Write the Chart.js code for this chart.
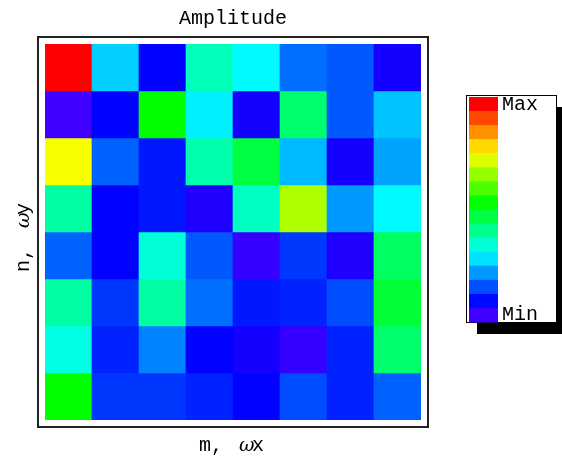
<!DOCTYPE html>
<html>
<head>
<meta charset="utf-8">
<script src="https://cdn.jsdelivr.net/npm/chart.js@4.4.1/dist/chart.umd.min.js"></script>
<style>
  html, body { margin: 0; padding: 0; background: #fff; }
</style>
</head>
<body>
<div style="width:562px;height:456px">
  <canvas id="chart" width="562" height="456"></canvas>
</div>
<script>
// columns m (left to right), rows n (top to bottom)
const columns = ["1", "2", "3", "4", "5", "6", "7", "8"];
const rows = ["1", "2", "3", "4", "5", "6", "7", "8"];

// normalised amplitude, 0 = Min, 1 = Max (row by row, top first)
const amplitude = [
  [1.00, 0.25, 0.06, 0.36, 0.29, 0.16, 0.14, 0.04],
  [0.00, 0.06, 0.53, 0.28, 0.04, 0.43, 0.14, 0.24],
  [0.76, 0.15, 0.08, 0.37, 0.47, 0.23, 0.04, 0.21],
  [0.38, 0.06, 0.08, 0.03, 0.35, 0.69, 0.20, 0.29],
  [0.15, 0.06, 0.33, 0.14, 0.01, 0.11, 0.03, 0.44],
  [0.38, 0.11, 0.38, 0.16, 0.08, 0.09, 0.13, 0.48],
  [0.32, 0.09, 0.18, 0.06, 0.04, 0.01, 0.09, 0.43],
  [0.53, 0.11, 0.11, 0.09, 0.06, 0.13, 0.09, 0.15],
];

// colour bar steps, top (Max) to bottom (Min)
const legendLevels = [1.0, 0.933, 0.867, 0.8, 0.733, 0.667, 0.6, 0.533,
                      0.467, 0.4, 0.333, 0.267, 0.2, 0.133, 0.067, 0.0];

const MONO = "'Courier New', 'Liberation Mono', monospace";

// hue runs from violet (min) to red (max)
function colour(v) {
  const h = 255 * (1 - v);
  return "hsl(" + h.toFixed(1) + ", 100%, 50%)";
}

// one floating bar per cell, bottom row is dataset 0
const datasets = rows.map((r, i) => {
  const k = rows.length - 1 - i;
  return {
    label: "n=" + r,
    data: columns.map(() => [k, k + 1]),
    backgroundColor: amplitude[i].map(colour),
    borderWidth: 0,
    barPercentage: 1,
    categoryPercentage: 1,
  };
});

const decorations = {
  id: "decorations",
  afterDraw(chart) {
    const ctx = chart.ctx;
    ctx.save();

    // plot frame
    ctx.strokeStyle = "#222";
    ctx.lineWidth = 2;
    ctx.strokeRect(38, 37, 390, 390);

    ctx.fillStyle = "#000";
    ctx.font = "20px " + MONO;
    ctx.textBaseline = "alphabetic";

    // title
    ctx.textAlign = "center";
    ctx.fillText("Amplitude", 233, 24);

    // x axis label  "m,  ωx"
    ctx.textAlign = "left";
    ctx.fillText("m,", 199, 451);
    ctx.font = "italic 19px 'DejaVu Serif', serif";
    ctx.fillText("ω", 239, 451);
    ctx.font = "20px " + MONO;
    ctx.fillText("x", 252, 451);

    // y axis label, rotated
    ctx.save();
    ctx.translate(29, 236);
    ctx.rotate(-Math.PI / 2);
    ctx.textAlign = "left";
    ctx.fillText("n,", -36, 0);
    ctx.font = "italic 19px 'DejaVu Serif', serif";
    ctx.fillText("ω", 8, 0);
    ctx.font = "20px " + MONO;
    ctx.fillText("y", 21, 0);
    ctx.restore();

    // colour legend with drop shadow
    ctx.fillStyle = "#000";
    ctx.fillRect(477, 107, 90, 227);
    ctx.fillStyle = "#fff";
    ctx.fillRect(466, 95, 91, 228);
    ctx.strokeStyle = "#000";
    ctx.lineWidth = 1;
    ctx.strokeRect(466.5, 95.5, 90, 227);

    const top = 97, h = 225 / legendLevels.length;
    legendLevels.forEach((v, i) => {
      ctx.fillStyle = colour(v);
      ctx.fillRect(469, top + i * h, 29, h + 0.5);
    });

    ctx.fillStyle = "#000";
    ctx.font = "20px " + MONO;
    ctx.textAlign = "left";
    ctx.fillText("Max", 502, 110);
    ctx.fillText("Min", 502, 320);

    ctx.restore();
  },
};

new Chart(document.getElementById("chart"), {
  type: "bar",
  data: { labels: columns, datasets: datasets },
  options: {
    responsive: false,
    animation: false,
    layout: { padding: { left: 45, right: 141, top: 44, bottom: 36 } },
    plugins: {
      legend: { display: false },
      title: { display: false },
      tooltip: { enabled: false },
    },
    scales: {
      x: { display: false, stacked: true, grid: { display: false } },
      y: { display: false, min: 0, max: rows.length, grid: { display: false } },
    },
  },
  plugins: [decorations],
});
</script>
</body>
</html>
